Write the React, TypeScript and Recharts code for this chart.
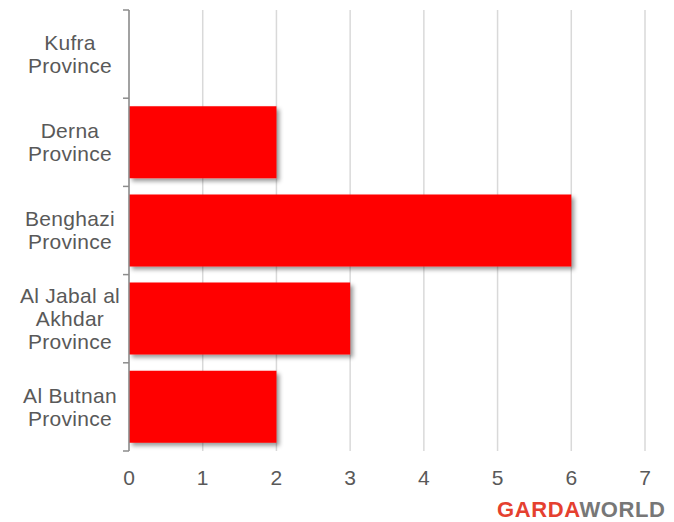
import React from "react";
import { Bar, BarChart, CartesianGrid, XAxis, YAxis } from "recharts";

const provinces = ["Kufra Province", "Derna Province", "Benghazi Province", "Al Jabal al Akhdar Province", "Al Butnan Province"];
const provinceLines = [["Kufra", "Province"], ["Derna", "Province"], ["Benghazi", "Province"], ["Al Jabal al", "Akhdar", "Province"], ["Al Butnan", "Province"]];
const incidents = [0, 2, 6, 3, 2];
const xTicks = [0, 1, 2, 3, 4, 5, 6, 7];

const data = provinces.map((name, i) => ({ name, value: incidents[i] }));

const W = 674;
const H = 522;
const TOP = 10;
const BOTTOM = 71;
const AXIS_X = 129;
const band = (H - TOP - BOTTOM) / provinces.length;
const FONT = "Liberation Sans, Arial, sans-serif";

function ProvinceTick(props: any) {
  const { y, index } = props;
  const lines: string[] = provinceLines[index] || [props.payload.value];
  const lh = 23;
  const start = y - ((lines.length - 1) * lh) / 2;
  return (
    <g>
      <line x1={AXIS_X - 6} x2={AXIS_X} y1={y - band / 2} y2={y - band / 2} stroke="#8c8c8c" strokeWidth={1.5} />
      {index === provinces.length - 1 && (
        <line x1={AXIS_X - 6} x2={AXIS_X} y1={y + band / 2} y2={y + band / 2} stroke="#8c8c8c" strokeWidth={1.5} />
      )}
      <text textAnchor="middle" fill="#595959" fontSize={21} letterSpacing={0.3} fontFamily={FONT}>
        {lines.map((l, i) => (
          <tspan key={i} x={70} y={start + i * lh} dy="0.35em">
            {l}
          </tspan>
        ))}
      </text>
    </g>
  );
}

function ValueTick(props: any) {
  const { x, y, payload } = props;
  return (
    <text x={x} y={y + 19} dy="0.35em" textAnchor="middle" fill="#595959" fontSize={21} fontFamily={FONT}>
      {payload.value}
    </text>
  );
}

export default function App() {
  return (
    <div style={{ position: "absolute", left: 0, top: 0, width: W, height: H, background: "#fff" }}>
      <BarChart
        width={W}
        height={H}
        data={data}
        layout="vertical"
        margin={{ top: TOP, right: 29, bottom: BOTTOM - 40, left: 0 }}
        barCategoryGap={8}
      >
        <defs>
          <filter id="barShadow" x="-5%" y="-10%" width="115%" height="130%">
            <feDropShadow dx={3} dy={3} stdDeviation={2} floodColor="#000" floodOpacity={0.4} />
          </filter>
        </defs>
        <CartesianGrid horizontal={false} stroke="#d9d9d9" strokeWidth={1.5} />
        <XAxis
          type="number"
          domain={[0, 7]}
          ticks={xTicks}
          axisLine={false}
          tickLine={false}
          height={40}
          tick={<ValueTick />}
          interval={0}
        />
        <YAxis
          type="category"
          dataKey="name"
          width={AXIS_X}
          axisLine={{ stroke: "#8c8c8c", strokeWidth: 1.5 }}
          tickLine={false}
          tick={<ProvinceTick />}
          interval={0}
          tickSize={0}
        />
        <Bar dataKey="value" fill="#ff0000" isAnimationActive={false} filter="url(#barShadow)" />
      </BarChart>
      <div
        style={{
          position: "absolute",
          left: 497,
          top: 498,
          fontFamily: FONT,
          fontWeight: 900,
          fontSize: 22,
          letterSpacing: 0.6,
          lineHeight: "24px",
          whiteSpace: "nowrap",
        }}
      >
        <span style={{ color: "#e5402f" }}>GARDA</span>
        <span style={{ color: "#777777" }}>WORLD</span>
      </div>
    </div>
  );
}
